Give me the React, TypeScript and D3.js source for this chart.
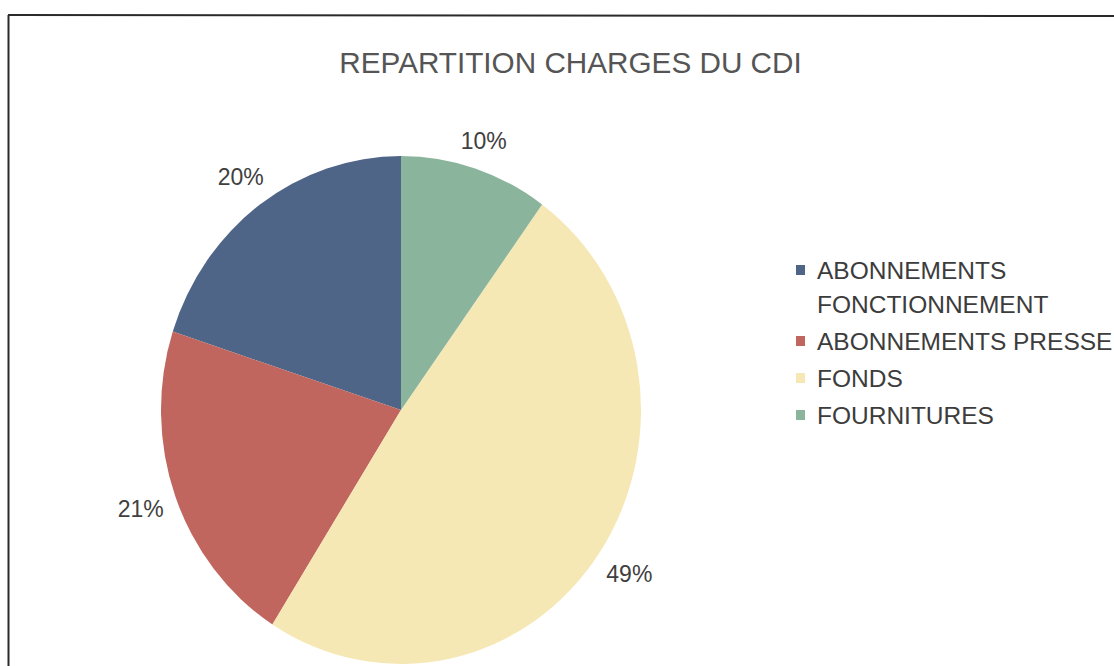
import * as d3 from 'd3';
import { useEffect, useRef } from 'react';

const title = 'REPARTITION CHARGES DU CDI';
const categories = ['ABONNEMENTS FONCTIONNEMENT', 'ABONNEMENTS PRESSE', 'FONDS', 'FOURNITURES'];
const values = [20, 21, 49, 10];
const colors = ['#4f6587', '#c1665f', '#f6e8b4', '#8bb49d'];

const W = 1114;
const H = 666;
const FONT = '"Liberation Sans", Arial, sans-serif';

const App = () => {
  const svgRef = useRef<SVGSVGElement>(null);

  useEffect(() => {
    const svg = d3.select(svgRef.current);
    svg.selectAll('*').remove();

    // frame (scan shows only top and left edges)
    svg.append('line')
      .attr('x1', 8).attr('y1', 15).attr('x2', W).attr('y2', 16)
      .attr('stroke', '#2a2a2a').attr('stroke-width', 2);
    svg.append('line')
      .attr('x1', 8.5).attr('y1', 15).attr('x2', 8.5).attr('y2', H)
      .attr('stroke', '#2a2a2a').attr('stroke-width', 2);

    svg.append('text')
      .attr('x', 570.5)
      .attr('y', 73)
      .attr('text-anchor', 'middle')
      .style('font-family', FONT)
      .style('font-size', '29.7px')
      .style('fill', '#555')
      .text(title);

    // pie, stretched a bit vertically like the scan
    const radius = 240;
    const stretch = 254 / 240;
    const total = d3.sum(values);

    const pie = d3.pie<number>()
      .sort(null)
      .startAngle(0)
      .endAngle(-2 * Math.PI)
      .value(d => d);

    const arcs = pie(values);
    const arc = d3.arc<d3.PieArcDatum<number>>().innerRadius(0).outerRadius(radius);

    const g = svg.append('g')
      .attr('transform', `translate(401, 410) scale(1, ${stretch})`);

    g.selectAll('path.slice')
      .data(arcs)
      .enter()
      .append('path')
      .attr('class', 'slice')
      .attr('d', arc)
      .style('fill', (_, i) => colors[i]);

    // outside-end labels: box edge sits a fixed gap past the rim
    const labels = g.selectAll('text.pct')
      .data(arcs)
      .enter()
      .append('text')
      .attr('class', 'pct')
      .attr('text-anchor', 'middle')
      .attr('dominant-baseline', 'central')
      .style('font-family', FONT)
      .style('font-size', '23px')
      .style('fill', '#404040')
      .text(d => `${Math.round((d.value / total) * 100)}%`);

    labels.each(function (d) {
      const el = this as SVGTextElement;
      const bb = el.getBBox();
      const a = (d.startAngle + d.endAngle) / 2;
      const s = Math.sin(a), c = Math.cos(a);
      const dist = radius + 12 + Math.abs(s) * bb.width / 2 + Math.abs(c) * 9;
      d3.select(el).attr('x', s * dist).attr('y', -c * dist);
    });

    // legend
    const wrap = (s: string) => {
      if (s.length <= 20) return [s];
      const k = s.lastIndexOf(' ');
      return [s.slice(0, k), s.slice(k + 1)];
    };

    let y = 279;
    categories.forEach((c, i) => {
      const lines = wrap(c);
      svg.append('rect')
        .attr('x', 796)
        .attr('y', y - 14)
        .attr('width', 9)
        .attr('height', 10)
        .style('fill', colors[i]);
      lines.forEach((ln, j) => {
        svg.append('text')
          .attr('x', 817)
          .attr('y', y + j * 34)
          .style('font-family', FONT)
          .style('font-size', '24.5px')
          .style('fill', '#3c3c3c')
          .text(ln);
      });
      y += (lines.length - 1) * 34 + 37;
    });
  }, []);

  return (
    <svg
      ref={svgRef}
      width={W}
      height={H}
      style={{ position: 'absolute', left: 0, top: 0, background: '#fff' }}
    ></svg>
  );
};

export default App;
